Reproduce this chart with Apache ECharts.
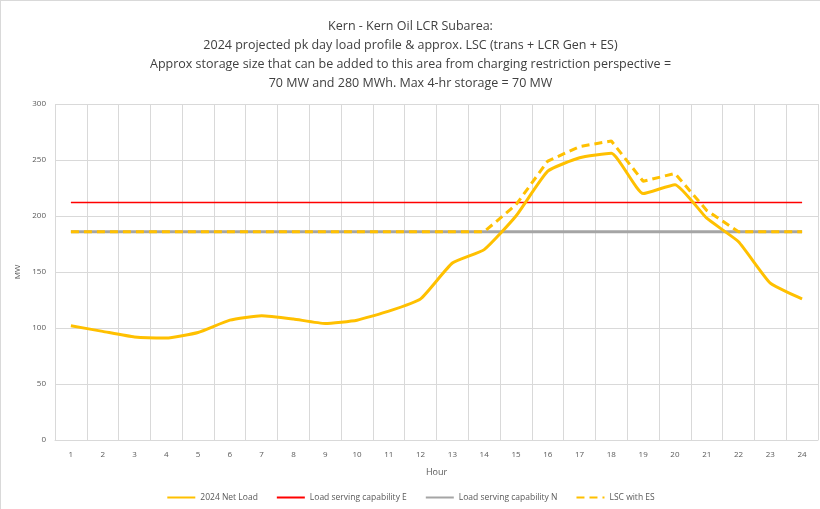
<!DOCTYPE html>
<html>
<head>
<meta charset="utf-8">
<script src="https://cdn.jsdelivr.net/npm/echarts@6/dist/echarts.min.js"></script>
<style>
html, body { margin: 0; padding: 0; background: #fff; }
#chart { width: 820px; height: 509px; box-sizing: border-box; border-left: 1px solid #d9d9d9; border-top: 1px solid #d9d9d9; }
</style>
</head>
<body>
<div id="chart"></div>
<script>
// hours 1..24
var hours = ['1','2','3','4','5','6','7','8','9','10','11','12','13','14','15','16','17','18','19','20','21','22','23','24'];
var netLoad = [102, 97, 92, 91, 96, 107, 111, 108, 104, 107, 115, 126, 158, 170, 200, 240, 252, 256, 220, 228, 198, 177, 140, 126];
var capE = [212, 212, 212, 212, 212, 212, 212, 212, 212, 212, 212, 212, 212, 212, 212, 212, 212, 212, 212, 212, 212, 212, 212, 212];
var capN = [186, 186, 186, 186, 186, 186, 186, 186, 186, 186, 186, 186, 186, 186, 186, 186, 186, 186, 186, 186, 186, 186, 186, 186];
var lscES = [186, 186, 186, 186, 186, 186, 186, 186, 186, 186, 186, 186, 186, 186, 210, 249, 262, 267, 231, 238, 205, 186, 186, 186];
var yTicks = { min: 0, max: 300, interval: 50 };

var chart = echarts.init(document.getElementById('chart'));

var txt = '#595959';
var option = {
    animation: false,
    textStyle: { fontFamily: 'Open Sans' },
    title: {
        text: 'Kern - Kern Oil LCR Subarea:\n2024 projected pk day load profile & approx. LSC (trans + LCR Gen + ES)\nApprox storage size that can be added to this area from charging restriction perspective =\n70 MW and 280 MWh. Max 4-hr storage = 70 MW',
        left: 'center',
        top: 11,
        textStyle: { fontSize: 12.5, fontWeight: 'normal', color: '#404040', lineHeight: 19, fontFamily: 'Open Sans' }
    },
    legend: {
        bottom: 2,
        left: 'center',
        itemWidth: 28,
        itemHeight: 10,
        itemGap: 18,
        itemStyle: { opacity: 0 },
        textStyle: { fontSize: 8.5, color: txt },
        data: ['2024 Net Load', 'Load serving capability E', 'Load serving capability N', 'LSC with ES']
    },
    grid: { left: 54, right: 2, top: 103, bottom: 69 },
    xAxis: {
        type: 'category',
        data: hours,
        boundaryGap: true,
        name: 'Hour',
        nameLocation: 'middle',
        nameGap: 28,
        nameTextStyle: { fontSize: 9, color: txt },
        axisLine: { lineStyle: { color: '#d9d9d9' } },
        axisTick: { show: false },
        axisLabel: { fontSize: 8, color: txt, margin: 11 },
        splitLine: { show: true, lineStyle: { color: '#d9d9d9' } }
    },
    yAxis: {
        type: 'value',
        min: yTicks.min,
        max: yTicks.max,
        interval: yTicks.interval,
        name: 'MW',
        nameLocation: 'middle',
        nameGap: 32,
        nameTextStyle: { fontSize: 8, color: txt },
        axisLine: { show: false },
        axisTick: { show: false },
        axisLabel: { fontSize: 8, color: txt, margin: 9 },
        splitLine: { lineStyle: { color: '#d9d9d9' } }
    },
    series: [
        {
            name: 'Load serving capability E',
            type: 'line',
            data: capE,
            symbol: 'none',
            z: 2,
            color: '#ff0000',
            lineStyle: { color: '#ff0000', width: 1.5 }
        },
        {
            name: 'Load serving capability N',
            type: 'line',
            data: capN,
            symbol: 'none',
            z: 2,
            color: '#a5a5a5',
            lineStyle: { color: '#a5a5a5', width: 3 }
        },
        {
            name: '2024 Net Load',
            type: 'line',
            data: netLoad,
            symbol: 'none',
            smooth: 0.15,
            z: 3,
            color: '#ffc000',
            lineStyle: { color: '#ffc000', width: 3 }
        },
        {
            name: 'LSC with ES',
            type: 'line',
            data: lscES,
            symbol: 'none',
            z: 4,
            color: '#ffc000',
            lineStyle: { color: '#ffc000', width: 3, type: [8, 5] }
        }
    ]
};

chart.setOption(option);
</script>
</body>
</html>
